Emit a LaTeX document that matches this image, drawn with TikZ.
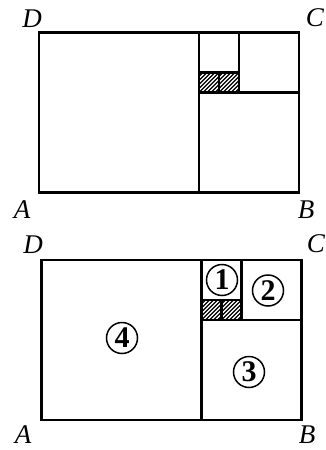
\documentclass[tikz,border=0pt]{standalone}
\usepackage{fontspec}
\setmainfont{Liberation Serif}
\begin{document}
\begin{tikzpicture}[x=1pt,y=-1pt,
  frame/.style={line width=2.6pt,line join=miter},
  hatch/.style={line width=1.1pt},
  lbl/.style={font=\fontsize{27}{30}\selectfont\itshape,inner sep=0pt},
  num/.style={circle,draw,line width=1.5pt,minimum size=31pt,inner sep=0pt,
    font=\fontsize{30}{32}\selectfont\bfseries}]
\useasboundingbox (0,0) rectangle (326,450);
% ---------- top figure ----------
\draw[frame] (39,32.5) rectangle (299,192.5);
\draw[frame] (199,32.5) -- (199,192.5);
\draw[frame] (199,92.5) -- (299,92.5);
\draw[frame] (239,32.5) -- (239,92.5);
\foreach \x in {199,219}{
  \begin{scope}
    \clip (\x,72.5) rectangle ++(20,20);
    \foreach \i in {-20,-16,...,20}
      \draw[hatch] (\x+\i,92.5) -- ++(20,-20);
  \end{scope}
}
\draw[frame] (199,72.5) -- (239,72.5);
\draw[frame] (219,72.5) -- (219,92.5);
\node[lbl] (D1) at (32,19) {D};
\node[lbl] (C1) at (315,18) {C};
\node[lbl] (A1) at (22,210) {A};
\node[lbl] (B1) at (306,210) {B};
% ---------- bottom figure ----------
\draw[frame] (41.5,260) rectangle (301.5,420);
\draw[frame] (201.5,260) -- (201.5,420);
\draw[frame] (201.5,320) -- (301.5,320);
\draw[frame] (241.5,260) -- (241.5,320);
\foreach \x in {201.5,221.5}{
  \begin{scope}
    \clip (\x,300) rectangle ++(20,20);
    \foreach \i in {-20,-16,...,20}
      \draw[hatch] (\x+\i,320) -- ++(20,-20);
  \end{scope}
}
\draw[frame] (201.5,300) -- (241.5,300);
\draw[frame] (221.5,300) -- (221.5,320);
\node[lbl] (D2) at (33,245) {D};
\node[lbl] (C2) at (316,244) {C};
\node[lbl] (A2) at (23,435) {A};
\node[lbl] (B2) at (307,435) {B};
\node[num] (n1) at (222,280) {1};
\node[num] (n2) at (268,290.5) {2};
\node[num] (n3) at (249,372) {3};
\node[num] (n4) at (122,338) {4};
\end{tikzpicture}
\end{document}
